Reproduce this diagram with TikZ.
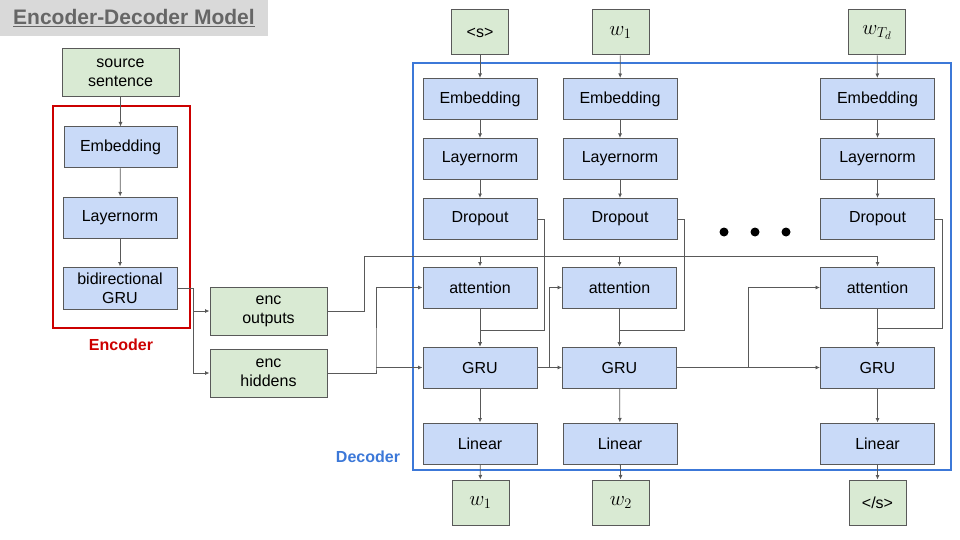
\documentclass[tikz,border=0pt]{standalone}
\usepackage[no-math]{fontspec}
\setmainfont{Liberation Sans}
\usetikzlibrary{arrows.meta}
\definecolor{linegray}{HTML}{595959}
\definecolor{boxblue}{HTML}{C9DAF8}
\definecolor{boxgreen}{HTML}{D9EAD3}
\definecolor{encred}{HTML}{CC0000}
\definecolor{decblue}{HTML}{3C78D8}
\definecolor{titlegray}{HTML}{666666}
\definecolor{bannergray}{HTML}{D9D9D9}
\newcommand{\tok}[1]{\fontsize{22}{26}\selectfont$#1$}
\begin{document}
\begin{tikzpicture}[x=1pt,y=-1pt,>={Latex[length=4.5pt,width=4pt]},
 layer/.style={draw=linegray,line width=1pt,fill=boxblue,inner sep=0pt,minimum width=114pt,minimum height=41pt,align=center,font=\fontsize{16}{19}\selectfont},
 data/.style={layer,fill=boxgreen,minimum width=117pt,minimum height=48pt},
 word/.style={layer,fill=boxgreen,minimum width=57pt,minimum height=45pt},
 wire/.style={->,draw=linegray,line width=0.8pt},
 tag/.style={font=\bfseries\fontsize{16}{19}\selectfont}]
\useasboundingbox (0,0) rectangle (960,540);
\node[fill=bannergray,minimum width=268pt,minimum height=36pt,inner sep=0pt,text=titlegray,font=\bfseries\fontsize{21}{25}\selectfont] (title) at (134,18) {\underline{Encoder-Decoder Model}};
\draw[encred,line width=2pt] (53,106) rectangle (190,328);
\draw[decblue,line width=2pt] (413,63) rectangle (951,470);
\node[tag,text=encred] (encLabel) at (121,345) {Encoder};
\node[tag,text=decblue] (decLabel) at (368,457) {Decoder};
\node[data] (src) at (120.5,72.5) {source\\sentence};
\node[layer,minimum width=113pt] (encEmb) at (120.5,147.5) {Embedding};
\node[layer] (encNorm) at (120,217.5) {Layernorm};
\node[layer,minimum height=42pt] (encGRU) at (120,288) {bidirectional\\GRU};
\node[data] (encOut) at (268.5,311) {enc\\outputs};
\node[data] (encHid) at (268.5,373) {enc\\hiddens};
\node[word] (in1) at (480,32.5) {<s>};
\node[word] (in2) at (620.5,32.5) {\tok{w_1}};
\node[word] (in3) at (877,32.5) {\tok{w_{T_d}}};
\node[layer] (emb1) at (480,99) {Embedding};
\node[layer] (emb2) at (620,99) {Embedding};
\node[layer] (emb3) at (877.5,99) {Embedding};
\node[layer] (norm1) at (480,159) {Layernorm};
\node[layer] (norm2) at (620,159) {Layernorm};
\node[layer] (norm3) at (877.5,159) {Layernorm};
\node[layer] (drop1) at (480,219) {Dropout};
\node[layer] (drop2) at (620,219) {Dropout};
\node[layer] (drop3) at (877.5,219) {Dropout};
\node[layer] (att1) at (480,287.5) {attention};
\node[layer] (att2) at (619.5,287.5) {attention};
\node[layer] (att3) at (877.5,287.5) {attention};
\node[layer] (gru1) at (480,367.5) {GRU};
\node[layer] (gru2) at (619.5,367.5) {GRU};
\node[layer] (gru3) at (877.5,367.5) {GRU};
\node[layer] (lin1) at (480,443.5) {Linear};
\node[layer] (lin2) at (620,443.5) {Linear};
\node[layer] (lin3) at (877.5,443.5) {Linear};
\node[word] (out1) at (480.5,502.5) {\tok{w_1}};
\node[word] (out2) at (621,502.5) {\tok{w_2}};
\node[word] (out3) at (877.5,502.5) {</s>};
\fill (724,232) circle (4.5) (755,232) circle (4.5) (786,232) circle (4.5);
\coordinate (split) at (193,311);
\coordinate (bus) at (364,256);
\coordinate (hidJ) at (376,367.5);
\coordinate (m1) at (480,330);
\coordinate (m2) at (619.5,330);
\coordinate (m3) at (877.5,328);
\coordinate (g1) at (549,367.5);
\coordinate (g2) at (748,367.5);
\draw[wire] (src) -- (encEmb);
\draw[wire] (encEmb) -- (encNorm);
\draw[wire] (encNorm) -- (encGRU);
\draw[wire] (encGRU.east) -| (split) -- (encOut.west);
\draw[wire] (split) |- (encHid.west);
\draw[wire] (encOut.east) -| (bus) -| (att3.north);
\draw[wire] (bus -| att1.north) -- (att1.north);
\draw[wire] (bus -| att2.north) -- (att2.north);
\draw[wire] (encHid.east) -| (hidJ) |- (att1.west);
\draw[wire] (hidJ) -- (gru1.west);
\draw[wire] (in1) -- (emb1);
\draw[wire] (in2) -- (emb2);
\draw[wire] (in3) -- (emb3);
\draw[wire] (emb1) -- (norm1);
\draw[wire] (emb2) -- (norm2);
\draw[wire] (emb3) -- (norm3);
\draw[wire] (norm1) -- (drop1);
\draw[wire] (norm2) -- (drop2);
\draw[wire] (norm3) -- (drop3);
\draw[wire] (att1) -- (gru1);
\draw[wire] (att2) -- (gru2);
\draw[wire] (att3) -- (gru3);
\draw[wire] (drop1.east) -- ++(7,0) |- (m1) -- (gru1.north);
\draw[wire] (drop2.east) -- ++(7,0) |- (m2) -- (gru2.north);
\draw[wire] (drop3.east) -- ++(7,0) |- (m3) -- (gru3.north);
\draw[wire] (gru1) -- (gru2);
\draw[wire] (g1) |- (att2.west);
\draw[wire] (gru2) -- (gru3);
\draw[wire] (g2) |- (att3.west);
\draw[wire] (gru1) -- (lin1);
\draw[wire] (gru2) -- (lin2);
\draw[wire] (gru3) -- (lin3);
\draw[wire] (lin1) -- (out1);
\draw[wire] (lin2) -- (out2);
\draw[wire] (lin3) -- (out3);
\end{tikzpicture}
\end{document}
